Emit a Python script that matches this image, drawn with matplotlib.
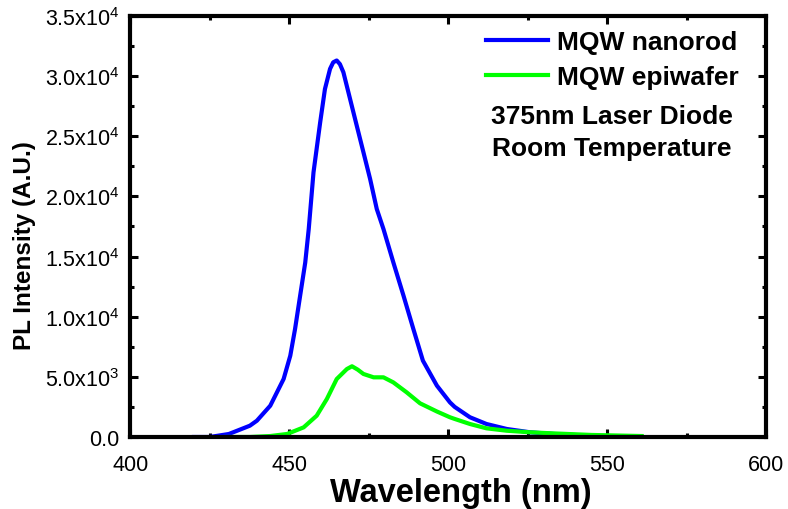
import numpy as np
import matplotlib
matplotlib.use('Agg')
import matplotlib.pyplot as plt
from matplotlib.ticker import MultipleLocator, FuncFormatter

plt.rcParams['font.family'] = ['Liberation Sans', 'DejaVu Sans']
plt.rcParams['mathtext.fontset'] = 'custom'
plt.rcParams['mathtext.rm'] = 'Liberation Sans'
plt.rcParams['mathtext.it'] = 'Liberation Sans:italic'
plt.rcParams['mathtext.bf'] = 'Liberation Sans:bold'

nanorod_wl = [420, 425, 431, 437.6, 439.8, 444, 448.2, 450.3, 451.8, 453.4, 455, 456.1,
              457.6, 459.7, 461.2, 462.8, 463.8, 464.9, 465.9, 467, 469.1, 471.2, 473.3,
              475.4, 477.5, 479.6, 482.7, 485.9, 489, 492, 496.4, 500.5, 502, 506.8, 512,
              518.4, 525.7, 533, 545, 560]
nanorod_int = [0, 0, 250, 940, 1355, 2600, 4820, 6760, 8980, 11750, 14500, 17290,
               22000, 26160, 28930, 30600, 31150, 31300, 31000, 30320, 28100, 25880, 23670,
               21450, 18950, 17290, 14520, 11750, 8980, 6350, 4270, 2880, 2500, 1640, 1080,
               665, 390, 250, 100, 30]

epi_wl = [430, 437.6, 444, 449.3, 454.5, 458.6, 461.8, 464.9, 468.1, 469.7, 471.5, 473.3,
          476.5, 479.6, 482.7, 486.9, 491.1, 496.4, 500.5, 502, 506.8, 512, 518.4, 525.7,
          533, 545, 560.8]
epi_int = [0, 0, 80, 250, 800, 1770, 3160, 4820, 5650, 5880, 5600, 5240,
           4960, 4960, 4540, 3710, 2800, 2120, 1640, 1500, 1080, 720, 520, 390,
           300, 170, 80]


def sci_fmt(v, pos):
    if v <= 0:
        return '0.0'
    e = int(np.floor(np.log10(v)))
    m = v / 10 ** e
    return '%.1fx10$^{\\mathregular{%d}}$' % (m, e)


fig = plt.figure(figsize=(7.88, 5.10), dpi=100)
ax = fig.add_axes([0.1654, 0.1412, 0.8071, 0.8255])

ax.plot(nanorod_wl, nanorod_int, color='#0000ff', lw=3, label='MQW nanorod')
ax.plot(epi_wl, epi_int, color='#00ff00', lw=3, label='MQW epiwafer')

ax.set_xlim(400, 600)
ax.set_ylim(0, 35000)
ax.xaxis.set_major_locator(MultipleLocator(50))
ax.xaxis.set_minor_locator(MultipleLocator(25))
ax.yaxis.set_major_locator(MultipleLocator(5000))
ax.yaxis.set_minor_locator(MultipleLocator(2500))
ax.yaxis.set_major_formatter(FuncFormatter(sci_fmt))

for s in ax.spines.values():
    s.set_linewidth(3)
ax.tick_params(which='both', direction='in', top=True, right=True, width=2.2,
               labelsize=15.5)
ax.tick_params(axis='y', pad=8)
ax.tick_params(axis='x', pad=12)
ax.tick_params(which='major', length=6)
ax.tick_params(which='minor', length=3)

ax.set_xlabel('Wavelength (nm)', fontsize=23.5, fontweight='bold')
ax.xaxis.set_label_coords(0.52, -0.094, transform=ax.transAxes)
ax.set_ylabel('PL Intensity (A.U.)', fontsize=17.5, fontweight='bold')
ax.yaxis.set_label_coords(-0.148, 0.458, transform=ax.transAxes)

leg = ax.legend(loc='center left', bbox_to_anchor=(0.559, 0.897), frameon=False,
                prop={'weight': 'bold', 'size': 19}, handlelength=2.35,
                handletextpad=0.35, labelspacing=0.42, borderpad=0, borderaxespad=0)
ax.text(0.757, 0.762, '375nm Laser Diode', transform=ax.transAxes, ha='center',
        va='center', fontsize=19, fontweight='bold')
ax.text(0.757, 0.686, 'Room Temperature', transform=ax.transAxes, ha='center',
        va='center', fontsize=19, fontweight='bold')

fig.savefig('out.png', dpi=100)
